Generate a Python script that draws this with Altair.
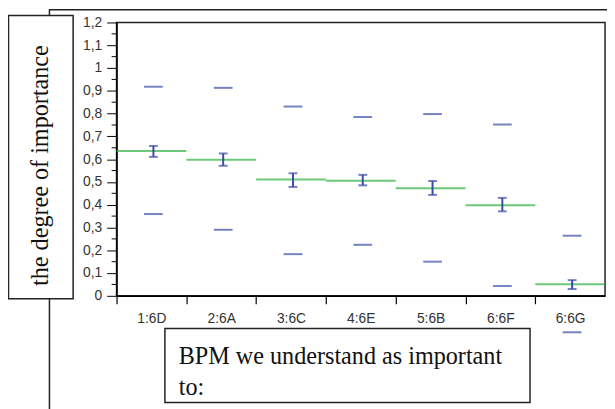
import altair as alt
import pandas as pd

categories = ["1:6D", "2:6A", "3:6C", "4:6E", "5:6B", "6:6F", "6:6G"]
means = [0.636, 0.597, 0.511, 0.505, 0.472, 0.398, 0.051]
err_low = [0.610, 0.571, 0.478, 0.485, 0.443, 0.371, 0.030]
err_high = [0.658, 0.625, 0.538, 0.531, 0.504, 0.430, 0.069]
max_vals = [0.918, 0.913, 0.831, 0.785, 0.798, 0.752, 0.264]
min_vals = [0.359, 0.290, 0.183, 0.224, 0.150, 0.043, -0.160]
y_ticks = [0, 0.1, 0.2, 0.3, 0.4, 0.5, 0.6, 0.7, 0.8, 0.9, 1, 1.1, 1.2]
minor_ticks = [0.05, 0.15, 0.25, 0.35, 0.45, 0.55, 0.65, 0.75, 0.85, 0.95, 1.05, 1.15]
y_title = "the degree of importance"
x_title = ["BPM we understand as important", "to:"]

df = pd.DataFrame({"cat": categories, "mean": means, "lo": err_low, "hi": err_high,
                   "mx": max_vals, "mn": min_vals})
dminor = pd.DataFrame({"v": minor_ticks})

W, H = 495, 277
BAND = W / len(categories)
BLUE = "#3A4DA6"
GREEN = "#2FB042"

yscale = alt.Scale(domain=[0, 1.2], nice=False, zero=False)
yaxis = alt.Axis(values=y_ticks, title=None, grid=False,
                 labelExpr="replace(format(datum.value, '~g'), '.', ',')",
                 labelFont="Liberation Sans", labelFontSize=14, labelColor="#333333",
                 labelPadding=5, tickSize=10, tickColor="black", domainColor="black",
                 tickWidth=1, domainWidth=1.5)
xaxis = alt.Axis(title=None, labelAngle=0, labelFont="Liberation Sans", labelFontSize=14,
                 labelColor="#333333", tickSize=8, tickColor="black", domainColor="black",
                 tickOffset=-BAND / 2, labelOffset=BAND / 2, labelPadding=8,
                 domainWidth=1.5, tickWidth=1.2)
xenc = alt.X("cat:N", sort=categories, axis=xaxis,
             scale=alt.Scale(paddingInner=0, paddingOuter=0))


def Y(field):
    return alt.Y(field, type="quantitative", scale=yscale, axis=yaxis)


base = alt.Chart(df)
one = alt.Chart(df.head(1))

# annotation frames
outer = one.mark_rect(fillOpacity=0, stroke="#222222", strokeWidth=1.5).encode(
    x=alt.value(-68), x2=alt.value(620), y=alt.value(-13), y2=alt.value(430))
ybox = one.mark_rect(fill="white", stroke="#222222", strokeWidth=1.5).encode(
    x=alt.value(-109.5), x2=alt.value(-44), y=alt.value(-7), y2=alt.value(280))
xbox = one.mark_rect(fill="white", stroke="#222222", strokeWidth=1.5).encode(
    x=alt.value(49), x2=alt.value(419), y=alt.value(310), y2=alt.value(385))
ytext = one.mark_text(font="Liberation Serif", fontSize=24.5, angle=270,
                      align="center", baseline="middle", color="#111111").encode(
    x=alt.value(-76), y=alt.value(145), text=alt.value(y_title))
xtext = one.mark_text(font="Liberation Serif", fontSize=24.5, align="left",
                      baseline="alphabetic", lineHeight=31, color="#111111").encode(
    x=alt.value(63), y=alt.value(346), text=alt.value(x_title))

minor = alt.Chart(dminor).mark_rule(color="black", strokeWidth=1).encode(
    y=Y("v"), x=alt.value(-5), x2=alt.value(0))

green = base.mark_tick(color=GREEN, thickness=2, size=BAND).encode(x=xenc, y=Y("mean"))
err = base.mark_rule(color=BLUE, strokeWidth=2, xOffset=2).encode(x=xenc, y=Y("lo"), y2="hi")
cap_lo = base.mark_tick(color=BLUE, thickness=2, size=9, xOffset=2).encode(x=xenc, y=Y("lo"))
cap_hi = base.mark_tick(color=BLUE, thickness=2, size=9, xOffset=2).encode(x=xenc, y=Y("hi"))
dmax = base.mark_tick(color=BLUE, thickness=2, size=19, xOffset=2).encode(x=xenc, y=Y("mx"))
dmin = base.mark_tick(color=BLUE, thickness=2, size=19, xOffset=2).encode(x=xenc, y=Y("mn"))

chart = alt.layer(outer, ybox, xbox, ytext, xtext, green, err, cap_lo, cap_hi, dmax, dmin, minor).properties(
    width=W, height=H,
    padding={"left": 110, "top": 12, "right": 2, "bottom": 112},
    autosize=alt.AutoSizeParams(type="none"),
).configure_view(stroke="#222222", strokeWidth=1.5)

chart.save("out.html", embed_options={"renderer": "svg", "actions": False})
